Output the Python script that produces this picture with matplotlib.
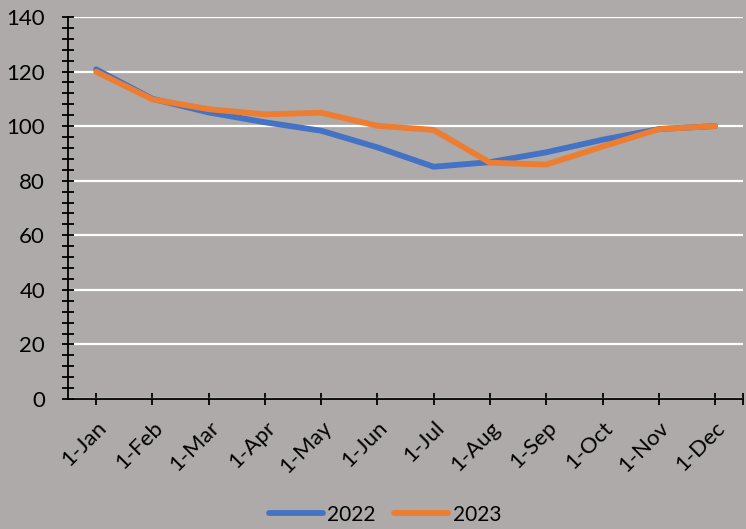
import matplotlib.pyplot as plt
import numpy as np

plt.rcParams['font.family'] = ['Lato', 'DejaVu Sans']

meses = ["1-Jan", "1-Feb", "1-Mar", "1-Apr", "1-May", "1-Jun",
         "1-Jul", "1-Aug", "1-Sep", "1-Oct", "1-Nov", "1-Dec"]
valores_2022 = [120.8, 110, 105, 101.4, 98.3, 92.2, 85.1, 86.8, 90.4, 95, 98.9, 100]
valores_2023 = [119.9, 109.8, 106.2, 104.3, 104.9, 100.1, 98.6, 86.6, 85.9, 92.5, 98.9, 100]

cor_fundo = "#AEAAAA"


def main():
    fig = plt.figure(figsize=(7.46, 5.29), dpi=100, facecolor=cor_fundo)
    ax = fig.add_axes([0.0912, 0.2457, 0.905, 0.7223], facecolor=cor_fundo)

    x = np.arange(len(meses))
    ax.plot(x, valores_2022, color="#4472C4", lw=4.2, label="2022", solid_capstyle="round")
    ax.plot(x, valores_2023, color="#ED7D31", lw=4.2, label="2023", solid_capstyle="round")

    ax.set_xlim(-0.5, 11.5)
    ax.set_ylim(0, 140)
    ax.set_yticks(np.arange(0, 141, 20))
    ax.set_yticks(np.arange(0, 141, 4), minor=True)
    ax.set_xticks(x)
    ax.set_xticks([11.5], minor=True)
    ax.set_xticklabels(meses, rotation=45, ha="right", rotation_mode="anchor")

    ax.grid(axis="y", color="white", lw=1.6)
    ax.set_axisbelow(True)
    for lado in ["top", "right"]:
        ax.spines[lado].set_visible(False)
    for lado in ["left", "bottom"]:
        ax.spines[lado].set_linewidth(1.3)
        ax.spines[lado].set_color("black")

    ax.tick_params(axis="y", which="both", direction="inout", length=9, width=1.3,
                   labelsize=16, pad=12)
    ax.tick_params(axis="x", which="both", direction="inout", length=9, width=1.3,
                   labelsize=16, pad=9)

    fig.legend(loc="center", bbox_to_anchor=(0.516, 0.027), ncol=2, frameon=False,
               fontsize=15, handlelength=2.6, handletextpad=0.2, columnspacing=0.9)

    fig.savefig("out.png", dpi=100, facecolor=cor_fundo)


if __name__ == '__main__':
    main()
